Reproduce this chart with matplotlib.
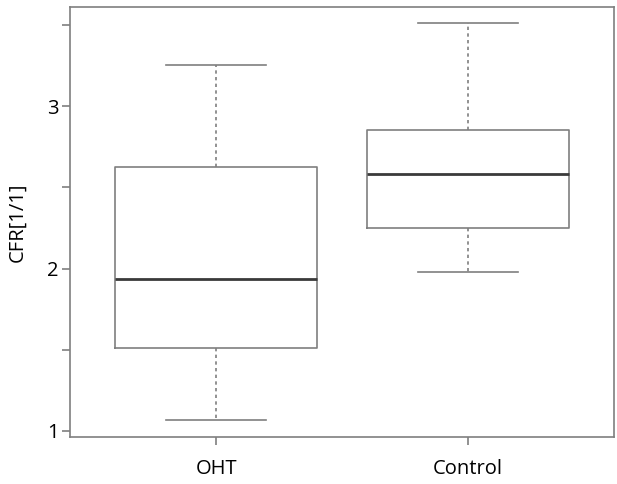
import matplotlib
matplotlib.use("Agg")
import matplotlib.pyplot as plt

# Box statistics
groups = ["OHT", "Control"]
whisker_low = [1.068, 1.977]
q1 = [1.513, 2.251]
median = [1.933, 2.583]
q3 = [2.627, 2.852]
whisker_high = [3.252, 3.509]

plt.rcParams['font.family'] = ['Open Sans', 'DejaVu Sans']

grey = "#7f7f7f"

fig = plt.figure(figsize=(6.17, 4.84), dpi=100)
ax = fig.add_axes([0.1135, 0.0971, 0.8816, 0.8884])

stats = []
for i in range(len(groups)):
    stats.append({
        "label": groups[i],
        "whislo": whisker_low[i],
        "q1": q1[i],
        "med": median[i],
        "q3": q3[i],
        "whishi": whisker_high[i],
        "fliers": [],
    })

ax.bxp(stats, positions=[1, 2], widths=0.8, showfliers=False,
       boxprops=dict(color=grey, linewidth=1.2),
       medianprops=dict(color="#3a3a3a", linewidth=2.0),
       whiskerprops=dict(color=grey, linewidth=1.2, linestyle=(0, (2, 2))),
       capprops=dict(color=grey, linewidth=1.2),
       capwidths=0.4)

ax.set_xlim(0.42, 2.58)
ax.set_ylim(0.963, 3.61)

ax.set_yticks([1, 2, 3])
ax.set_yticks([1.5, 2.5, 3.5], minor=True)
ax.set_yticklabels(["1", "2", "3"])
ax.set_xticks([1, 2])
ax.set_xticklabels(groups)

for s in ax.spines.values():
    s.set_color(grey)
    s.set_linewidth(1.2)

ax.tick_params(axis='both', which='both', length=6, width=1.2, color=grey,
               labelsize=14.5, pad=2)
ax.tick_params(axis='x', pad=10)
ax.set_ylabel("CFR[1/1]", fontsize=14.5, labelpad=14)

fig.savefig("out.png", dpi=100)
